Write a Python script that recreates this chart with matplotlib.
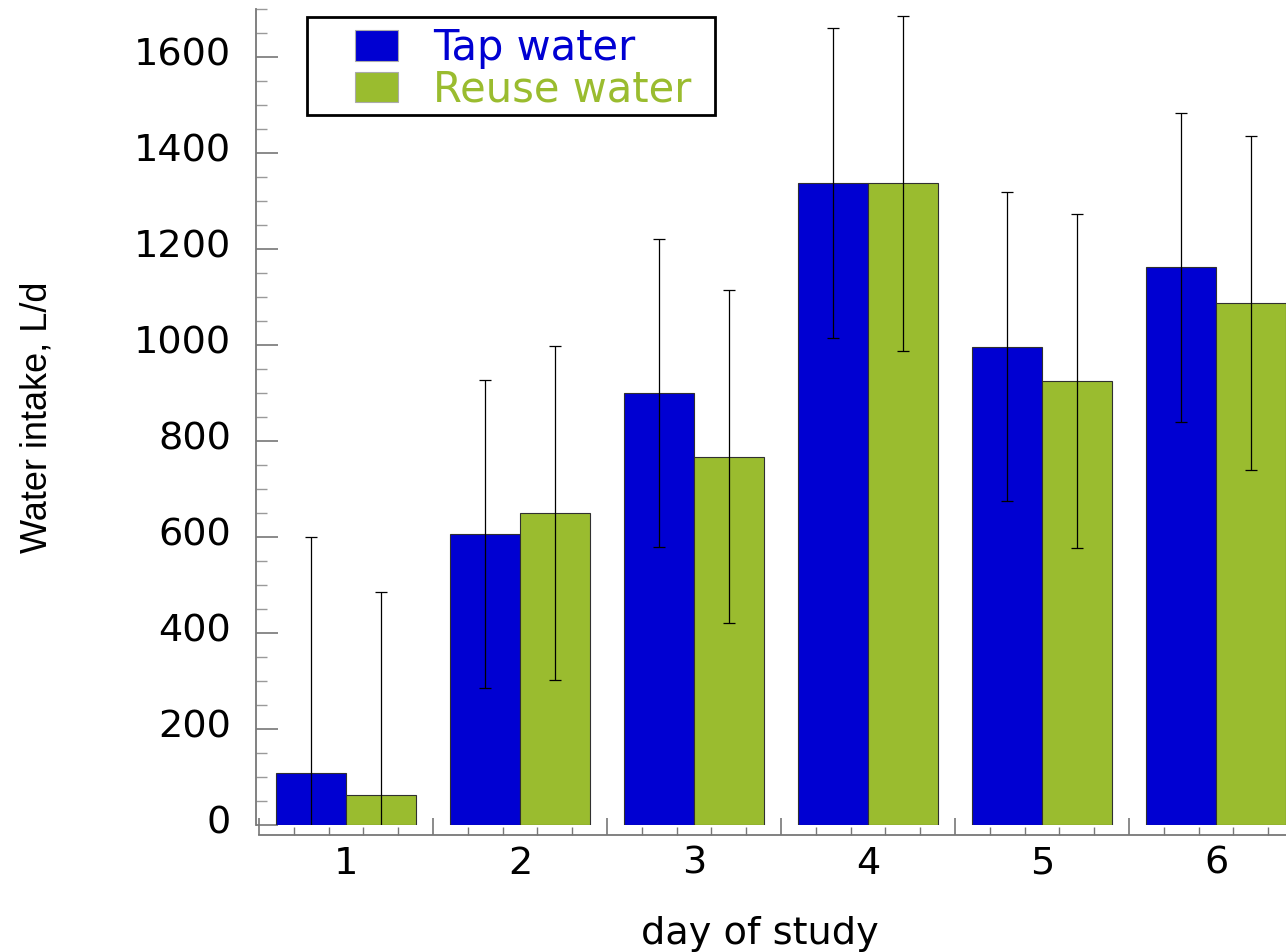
import matplotlib
matplotlib.use('Agg')
import matplotlib.pyplot as plt
import numpy as np
from matplotlib.ticker import MultipleLocator, FixedLocator
from matplotlib.transforms import ScaledTranslation
from matplotlib.patches import Rectangle

# water intake per day, mean and SD (L/d)
days = [1, 2, 3, 4, 5, 6]
tap_mean = [108, 606, 900, 1337, 996, 1162]
tap_sd = [492, 321, 321, 323, 322, 322]
reuse_mean = [62, 650, 767, 1337, 925, 1087]
reuse_sd = [423, 348, 347, 349, 347, 348]

series_names = ['Tap water', 'Reuse water']
blue = '#0000D2'
green = '#9ABC2F'
axis_gray = '#777777'
fs = 27.5

plt.rcParams['font.family'] = ['DejaVu Sans']

W, H = 1286, 952
fig = plt.figure(figsize=(W / 100, H / 100), dpi=100)
ax = fig.add_axes([259 / W, 127 / H, 1044 / W, 816 / H])

x = np.array(days, dtype=float)
bw = 0.4
ax.bar(x - bw / 2, tap_mean, width=bw, color=blue, edgecolor='#303030', linewidth=0.8, label=series_names[0], zorder=2)
ax.bar(x + bw / 2, reuse_mean, width=bw, color=green, edgecolor='#303030', linewidth=0.8, label=series_names[1], zorder=2)
ax.errorbar(x - bw / 2, tap_mean, yerr=tap_sd, fmt='none', ecolor='black', elinewidth=0.9, capsize=4, capthick=0.9, zorder=3)
ax.errorbar(x + bw / 2, reuse_mean, yerr=reuse_sd, fmt='none', ecolor='black', elinewidth=0.9, capsize=4, capthick=0.9, zorder=3)

ax.set_xlim(0.5, 6.5)
ax.set_ylim(0, 1700)

for s in ['top', 'right']:
    ax.spines[s].set_visible(False)
ax.spines['left'].set_position(('outward', 2))
ax.spines['bottom'].set_position(('outward', 7))
for s in ['left', 'bottom']:
    ax.spines[s].set_color(axis_gray)
    ax.spines[s].set_linewidth(1.3)

# y axis: major every 200, minor every 50, ticks pointing inward
ax.yaxis.set_major_locator(MultipleLocator(200))
ax.yaxis.set_minor_locator(MultipleLocator(50))
ax.tick_params(axis='y', which='major', direction='in', length=16, width=1.2, color=axis_gray, pad=18, labelsize=fs)
ax.tick_params(axis='y', which='minor', direction='in', length=8, width=1.0, color='#9a9a9a')
for lbl in ax.get_yticklabels():
    lbl.set_transform(lbl.get_transform() + ScaledTranslation(0, 6 / 100, fig.dpi_scale_trans))

# x axis: long ticks between days, short ticks inside each day
ax.xaxis.set_major_locator(FixedLocator([d - 0.5 for d in days] + [days[-1] + 0.5]))
ax.xaxis.set_minor_locator(FixedLocator([d - 0.5 + f for d in days for f in (0.2, 0.4, 0.6, 0.8)]))
ax.tick_params(axis='x', which='major', direction='in', length=12, width=1.2, color=axis_gray, labelbottom=False)
ax.tick_params(axis='x', which='minor', direction='in', length=6, width=1.0, color=axis_gray)

sec = ax.secondary_xaxis('bottom')
sec.set_xticks(days)
sec.spines['bottom'].set_visible(False)
sec.tick_params(length=0, pad=15, labelsize=fs)
sec.set_xlabel('day of study', fontsize=fs)
sec.xaxis.set_label_coords(760 / W, 1 - 916 / H, transform=fig.transFigure)

ax.set_ylabel('Water intake, L/d', fontsize=26, family=['Liberation Sans', 'DejaVu Sans'], labelpad=57)

leg = fig.legend(loc='upper left', bbox_to_anchor=(355 / W, 1 - 27 / H), frameon=False, borderpad=0,
                 borderaxespad=0, fontsize=30, handlelength=1.03, handleheight=0.74,
                 handletextpad=0.84, labelspacing=-0.02, labelcolor=[blue, green])
for h in leg.legend_handles:
    h.set_edgecolor('#aaaaaa')
fig.add_artist(Rectangle((307 / W, 1 - 115 / H), 408 / W, 98 / H, transform=fig.transFigure,
                         fill=False, edgecolor='black', linewidth=2))

fig.savefig('out.png', dpi=100)
